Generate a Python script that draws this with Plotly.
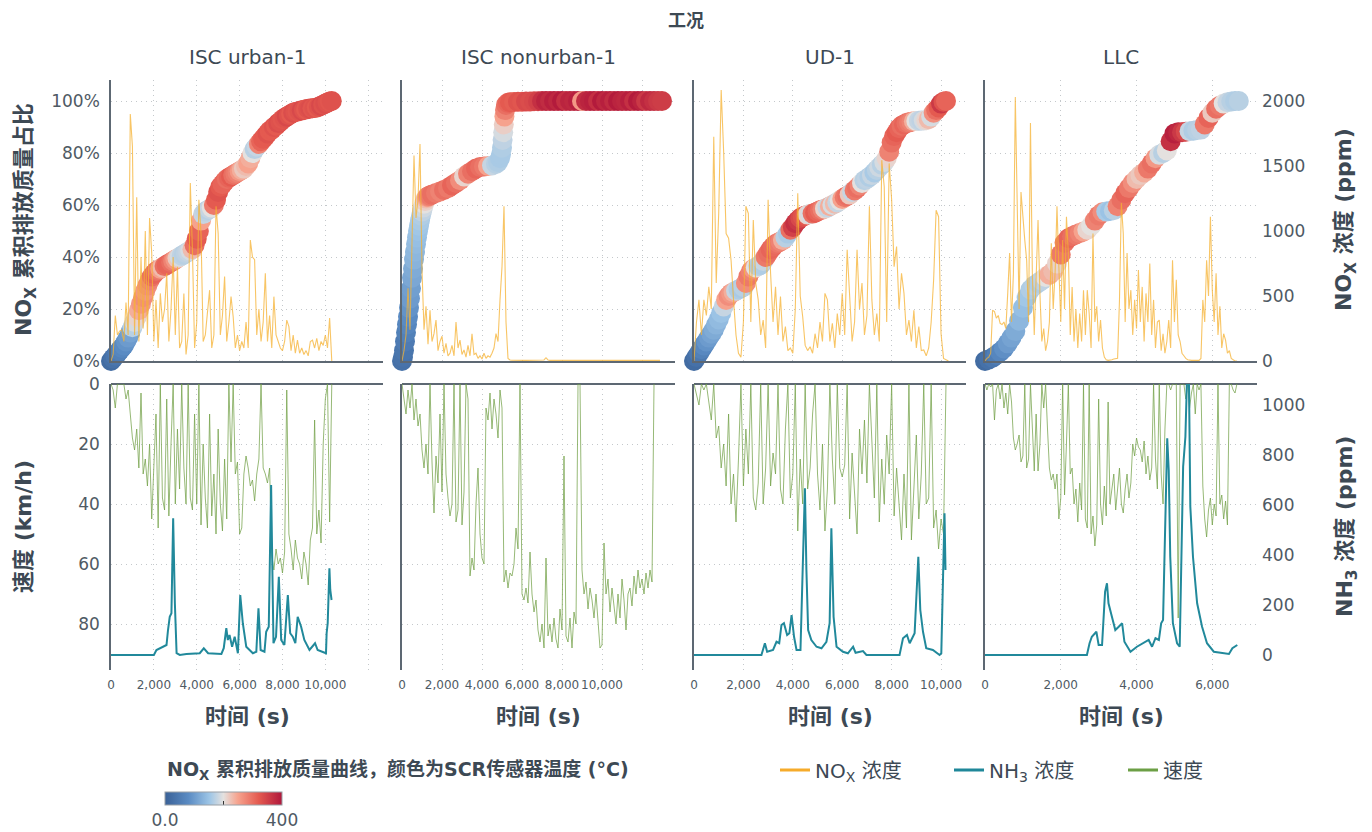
import numpy as np
import plotly.graph_objects as go

# ------------------------------------------------------------------
# Driving cycles
# ------------------------------------------------------------------
cycles = ["ISC urban-1", "ISC nonurban-1", "UD-1", "LLC"]

# ---------------- ISC urban-1 (100 s grid) ----------------
step_urban = 100
nox_urban = [0, 50, 350, 200, 230, 240, 150, 450, 200, 1900,
             1650, 200, 1260, 150, 800, 250, 1000, 200, 1100, 830,
             150, 470, 100, 520, 300, 400, 675, 150, 400, 800,
             200, 725, 100, 150, 520, 50, 200, 1370, 850, 100,
             300, 1240, 980, 150, 200, 400, 545, 100, 200, 1190,
             980, 200, 350, 650, 150, 300, 495, 340, 100, 200,
             80, 150, 100, 300, 100, 930, 800, 780, 200, 400,
             150, 300, 675, 150, 350, 100, 495, 200, 150, 100,
             80, 150, 315, 264, 80, 200, 60, 160, 60, 100,
             50, 80, 40, 150, 160, 100, 175, 80, 150, 120,
             200, 100, 330, 0]
cum_urban = [0, 1, 2, 3, 4, 5, 6, 7.5, 9, 11,
             13, 15, 17, 19.5, 22, 24.5, 27, 29, 31, 32.5,
             33.5, 34.5, 35, 35.5, 36, 36.5, 37, 37.5, 38, 38.5,
             39, 39.5, 40, 40.5, 41, 41.5, 42, 42.5, 43, 44.5,
             47, 50, 54, 56.5, 57.5, 58, 58.5, 59, 60, 62,
             65, 67, 68, 69, 70, 70.5, 71, 71.5, 72, 72.5,
             73, 73.5, 74, 75, 76, 78, 80, 81.5, 82.5, 83.5,
             84.5, 85.5, 86.5, 87.5, 88.5, 89, 90, 90.5, 91.5, 92,
             93, 93.5, 94, 94.5, 95, 95.5, 95.8, 96, 96.2, 96.4,
             96.6, 96.8, 97, 97.1, 97.2, 97.3, 97.5, 97.8, 98.2, 98.6,
             99, 99.4, 99.8, 100]
temp_urban = [20, 30, 40, 50, 60, 70, 80, 90, 100, 110,
              170, 190, 210, 240, 260, 270, 260, 270, 280, 300,
              310, 300, 290, 250, 230, 300, 310, 310, 300, 280,
              260, 220, 190, 175, 170, 175, 180, 190, 230, 300,
              320, 310, 250, 180, 175, 170, 180, 200, 290, 320,
              330, 320, 310, 310, 300, 310, 320, 300, 290, 280,
              260, 240, 220, 230, 250, 240, 200, 170, 180, 280,
              310, 320, 320, 330, 320, 320, 330, 320, 335, 330,
              325, 330, 340, 330, 320, 335, 330, 325, 330, 340,
              330, 320, 330, 335, 325, 330, 320, 330, 340, 330,
              335, 330, 325, 330]
speed_urban = [0, 2, 8, 0, 0, 0, 0, 5, 2, 10,
               18, 22, 15, 28, 3, 30, 25, 34, 20, 45,
               30, 10, 48, 0, 38, 42, 5, 44, 20, 0,
               40, 15, 35, 0, 28, 40, 0, 38, 42, 10,
               40, 0, 47, 20, 38, 48, 10, 44, 30, 50,
               15, 40, 49, 25, 45, 0, 26, 0, 30, 26,
               50, 48, 30, 24, 28, 34, 32, 39, 30, 25,
               0, 28, 30, 33, 28, 57, 62, 55, 60, 58,
               63, 56, 2, 50, 55, 62, 52, 58, 60, 65,
               56, 60, 67, 52, 48, 12, 50, 42, 53, 20,
               5, 0, 46, 0]
nh3_t_urban = [0, 2000, 2120, 2430, 2590, 2660, 2740, 2820, 2900, 2980,
               3060, 3210, 3520, 4140, 4330, 4530, 5150, 5260, 5380, 5450,
               5530, 5650, 5770, 5920, 6030, 6150, 6310, 6620, 6780, 6880,
               6980, 7160, 7240, 7360, 7470, 7580, 7700, 7830, 7940, 8090,
               8250, 8360, 8480, 8600, 8710, 8870, 9020, 9260, 9520, 9640,
               10030, 10060, 10110, 10190, 10230, 10290]
nh3_urban = [0, 0, 20, 33, 40, 100, 153, 167, 547, 207,
             7, 0, 4, 7, 27, 7, 4, 27, 107, 60,
             80, 33, 73, 7, 240, 127, 33, 7, 13, 187,
             20, 13, 93, 113, 680, 47, 73, 313, 60, 40,
             240, 87, 73, 47, 153, 113, 60, 20, 47, 20,
             7, 87, 127, 347, 260, 220]

# ---------------- ISC nonurban-1 (100 s grid) ----------------
step_nonurban = 100
nox_nonurban = [0, 80, 200, 560, 240, 900, 1580, 1100, 1240, 1670,
                700, 240, 420, 130, 390, 150, 210, 315, 80, 150,
                190, 60, 135, 40, 60, 120, 40, 300, 100, 160,
                50, 85, 30, 120, 40, 210, 50, 60, 20, 40,
                15, 60, 20, 40, 30, 60, 100, 210, 150, 470,
                725, 1190, 300, 20, 8, 6, 5, 5, 5, 5,
                5, 5, 5, 5, 5, 5, 5, 5, 5, 5,
                5, 8, 25, 8, 5, 5, 5, 5, 5, 5,
                5, 4, 5, 6, 5, 4, 5, 5, 6, 5,
                5, 4, 5, 6, 5, 4, 5, 5, 6, 5,
                5, 4, 5, 6, 5, 4, 5, 5, 6, 5,
                5, 4, 5, 6, 5, 4, 5, 5, 6, 5,
                5, 4, 5, 6, 5, 4, 5, 5, 6, 5]
cum_t_nonurban = [0, 50, 100, 150, 200, 250, 300, 350, 400, 450,
                  500, 550, 600, 650, 700, 750, 800, 850, 900, 950,
                  1000, 1050, 1100, 1150, 1200, 1250, 1300, 1350, 1400,
                  1500, 1700, 1900, 2100, 2300, 2500, 2700, 2900, 3100, 3300,
                  3500, 3700, 3900, 4100, 4300, 4500, 4700,
                  4800, 4900, 4950, 5000, 5030, 5060, 5090, 5120, 5150, 5200,
                  5300, 5400,
                  5600, 5800, 6000, 6200, 6400, 6600, 6800, 7000, 7200, 7400,
                  7600, 7800, 8000, 8200, 8400, 8600, 8800, 9000, 9200, 9400,
                  9600, 9800, 10000, 10200, 10400, 10600, 10800, 11000, 11200, 11400,
                  11600, 11800, 12000, 12200, 12400, 12600, 12800, 13000]
cum_nonurban = [0, 1.5, 4, 7.5, 11, 14, 17, 20.5, 24, 28,
                32, 35.5, 39, 42, 45, 47.5, 50, 52, 54, 56,
                57.5, 59, 60.5, 61.5, 62.5, 63, 63.3, 63.5, 63.7,
                64, 64.6, 65.2, 65.8, 66.5, 67.5, 68.5, 69.5, 71, 72,
                73, 74, 74.6, 74.8, 75, 75.2, 75.8,
                76.5, 78, 79.5, 82, 85, 88, 91, 94, 96.5, 98.5,
                99.3, 99.5,
                99.6, 99.7, 99.7, 99.8, 99.8, 99.9, 99.9, 100, 100, 100,
                100, 100, 100, 100, 100, 100, 100, 100, 100, 100,
                100, 100, 100, 100, 100, 100, 100, 100, 100, 100,
                100, 100, 100, 100, 100, 100, 100, 100]
temp_nonurban = [30, 35, 40, 50, 60, 70, 80, 90, 100, 105,
                 115, 120, 130, 135, 140, 145, 150, 155, 160, 165,
                 175, 185, 200, 215, 230, 250, 270, 280, 290,
                 300, 290, 280, 300, 290, 310, 300, 270, 210, 280,
                 300, 310, 300, 290, 250, 180, 170,
                 165, 160, 160, 165, 175, 190, 215, 250, 280, 300,
                 310, 320,
                 315, 330, 325, 340, 335, 340, 350, 370, 385, 375,
                 390, 380, 395, 370, 385, 380, 390, 260, 375, 385,
                 390, 370, 395, 380, 390, 375, 395, 385, 380, 390,
                 370, 395, 385, 360, 380, 370, 360, 355]
speed_nonurban = [0, 5, 10, 2, 8, 0, 12, 5, 14, 10,
                  22, 28, 20, 30, 0, 26, 43, 24, 33, 10,
                  36, 0, 30, 38, 44, 40, 0, 46, 42, 0,
                  47, 36, 0, 5, 64, 58, 62, 40, 28, 50,
                  58, 60, 8, 12, 3, 15, 5, 10, 18, 2,
                  8, 66, 62, 68, 63, 64, 60, 48, 55, 0,
                  70, 72, 68, 73, 56, 70, 76, 72, 82, 86,
                  80, 88, 58, 84, 80, 86, 78, 85, 88, 75,
                  82, 24, 84, 86, 78, 88, 76, 80, 0, 0,
                  62, 70, 66, 75, 68, 72, 78, 70, 80, 88,
                  87, 53, 70, 65, 76, 68, 74, 80, 70, 78,
                  65, 72, 82, 70, 68, 74, 64, 70, 62, 68,
                  65, 70, 63, 68, 62, 66, 0]

# ---------------- UD-1 (100 s grid) ----------------
step_ud = 100
nox_ud = [0, 300, 470, 200, 470, 350, 570, 400, 1725, 600,
          1135, 2085, 1610, 980, 945, 775, 470, 200, 60, 30,
          300, 1190, 1135, 300, 1085, 600, 470, 200, 315, 100,
          1240, 675, 300, 570, 200, 495, 150, 265, 80, 100,
          60, 400, 1290, 500, 340, 120, 80, 110, 60, 210,
          100, 300, 150, 520, 470, 150, 290, 100, 365, 200,
          520, 200, 855, 470, 150, 300, 855, 400, 600, 200,
          350, 1190, 470, 200, 365, 150, 1545, 1340, 300, 1520,
          1240, 725, 880, 400, 675, 520, 200, 315, 150, 390,
          100, 265, 80, 85, 40, 100, 300, 625, 1160, 1110,
          210, 20, 10, 0]
cum_ud = [0, 1.5, 3, 4.5, 6, 7.5, 9, 10.5, 12, 14,
          16, 18.5, 21, 23.5, 25, 26, 26.5, 27, 27.5, 28,
          28.5, 30, 32.5, 34.5, 35.5, 36, 36.5, 37, 38.5, 40,
          41.5, 43, 44, 45, 45.5, 46, 46.5, 47.5, 49, 50.5,
          51.5, 53, 54, 55, 55.5, 56, 56.3, 56.5, 56.7, 57,
          57.5, 58, 58.3, 58.6, 59, 59.5, 60, 60.5, 61, 61.8,
          62.3, 63, 63.5, 64, 65, 65.6, 66.5, 67.5, 68.5, 69.5,
          70, 70.8, 71.5, 72.5, 73.5, 74.5, 75.5, 76.5, 78, 80.5,
          84, 86.5, 88, 89.5, 90.5, 91, 91.5, 91.8, 92, 92.2,
          92.3, 92.4, 92.5, 92.5, 92.6, 93, 94, 95.5, 96.5, 97.5,
          99, 99.7, 100]
temp_ud = [20, 30, 45, 60, 75, 90, 100, 110, 120, 130,
           140, 150, 180, 250, 270, 260, 240, 180, 165, 160,
           170, 270, 290, 280, 260, 200, 170, 165, 180, 290,
           300, 310, 305, 300, 290, 280, 240, 170, 160, 300,
           350, 370, 360, 340, 330, 320, 210, 190, 300, 320,
           310, 300, 280, 210, 180, 240, 190, 230, 180, 200,
           250, 290, 300, 220, 180, 290, 300, 280, 200, 170,
           175, 165, 180, 160, 170, 185, 170, 190, 210, 280,
           300, 310, 320, 310, 300, 310, 300, 290, 280, 240,
           200, 180, 175, 190, 210, 230, 190, 270, 300, 320,
           360, 330, 310]
speed_ud = [0, 4, 7, 0, 2, 0, 6, 12, 0, 18,
            14, 28, 20, 34, 10, 40, 30, 46, 25, 0,
            34, 15, 30, 0, 38, 42, 33, 0, 40, 28,
            0, 34, 23, 30, 0, 35, 40, 15, 0, 38,
            30, 0, 49, 25, 40, 0, 35, 28, 10, 0,
            30, 42, 20, 49, 35, 0, 25, 40, 0, 28,
            31, 27, 0, 45, 23, 38, 50, 15, 30, 12,
            33, 0, 20, 38, 0, 46, 25, 40, 17, 30,
            0, 44, 28, 40, 52, 30, 48, 0, 52, 35,
            17, 45, 30, 0, 40, 38, 0, 48, 42, 55,
            45, 50, 0, 0]
nh3_t_ud = [0, 2730, 2870, 2960, 3200, 3340, 3450, 3540, 3640, 3770,
            3860, 3950, 4050, 4150, 4310, 4420, 4490, 4550, 4620, 4750,
            4960, 5160, 5360, 5490, 5560, 5650, 5770, 6030, 6230, 6440,
            6540, 6840, 6980, 7520, 8320, 8460, 8620, 8730, 8930, 9080,
            9160, 9270, 9400, 9670, 9940, 10010, 10080, 10140, 10180]
nh3_ud = [0, 0, 47, 13, 20, 53, 47, 120, 127, 80,
          87, 160, 73, 20, 20, 453, 667, 340, 100, 60,
          33, 27, 53, 127, 507, 153, 33, 13, 7, 33,
          9, 16, 0, 0, 0, 67, 80, 47, 87, 393,
          180, 93, 27, 20, 0, 7, 340, 567, 340]

# ---------------- LLC (50 s grid for signals, 100 s for cumulative) ----------------
step_llc = 50
step_llc_cum = 100
nox_llc = [0, 20, 30, 60, 390, 380, 330, 350, 290, 280,
           300, 250, 520, 830, 300, 675, 2030, 1290, 400, 1300,
           1085, 930, 775, 300, 1830, 675, 200, 675, 1085, 520,
           150, 250, 80, 150, 300, 905, 400, 675, 1190, 725,
           300, 930, 400, 1110, 830, 200, 570, 150, 400, 100,
           365, 150, 545, 200, 545, 365, 100, 980, 300, 420,
           150, 315, 100, 30, 10, 5, 5, 10, 15, 20,
           20, 470, 1215, 980, 300, 830, 400, 545, 200, 470,
           250, 700, 300, 570, 150, 520, 300, 750, 200, 470,
           100, 300, 315, 80, 210, 60, 150, 315, 100, 775,
           300, 625, 200, 150, 60, 40, 20, 10, 5, 5,
           5, 5, 5, 5, 20, 470, 300, 775, 500, 1110,
           545, 300, 675, 200, 420, 100, 210, 160, 60, 80,
           20, 10, 0, 0]
speed_llc = [0, 2, 0, 1, 0, 12, 2, 0, 5, 0,
             8, 3, 10, 0, 6, 18, 22, 20, 17, 26,
             24, 0, 28, 25, 0, 15, 29, 10, 29, 20,
             0, 8, 0, 15, 28, 32, 30, 35, 30, 45,
             38, 0, 37, 20, 0, 30, 28, 40, 35, 46,
             33, 42, 0, 45, 48, 0, 50, 44, 54, 47,
             5, 40, 47, 34, 44, 6, 40, 35, 30, 42,
             36, 28, 40, 43, 35, 30, 38, 33, 20, 24,
             18, 21, 22, 26, 19, 30, 24, 32, 28, 0,
             25, 35, 0, 30, 40, 15, 0, 0, 2, 0,
             0, 0, 78, 0, 0, 0, 5, 0, 8, 3,
             0, 10, 0, 2, 0, 34, 45, 51, 42, 38,
             47, 40, 44, 0, 40, 37, 45, 39, 47, 0,
             0, 2, 3, 0]
cum_llc = [0, 0.6, 1.3, 2.3, 3.5, 4.8, 6.8, 9, 11.5, 15.5,
           20.5, 24.5, 27.5, 29, 30, 31, 32.3, 33.2, 34.5, 37.5,
           41, 45.5, 47.2, 48, 48.7, 49.2, 49.8, 50.5, 52, 54,
           56, 57.2, 57.5, 57.7, 58, 59.5, 62, 64.5, 66.5, 68.5,
           70, 71.5, 72.5, 74, 76, 78, 79.3, 80, 81, 84.5,
           87.5, 88, 88, 88.2, 88.4, 88.6, 88.8, 89, 91, 93.5,
           95.5, 97, 98.2, 99, 99.5, 99.8, 100, 100]
temp_llc = [20, 30, 40, 55, 70, 85, 100, 110, 120, 135,
            145, 155, 165, 170, 165, 175, 200, 240, 230, 210,
            290, 300, 310, 300, 290, 280, 250, 210, 200, 280,
            290, 270, 160, 150, 170, 280, 300, 310, 290, 270,
            230, 220, 240, 290, 300, 260, 190, 170, 200, 370,
            390, 380, 360, 340, 180, 165, 170, 175, 290, 310,
            220, 300, 290, 200, 180, 170, 165, 170]
nh3_t_llc = [0, 2690, 2760, 2820, 2940, 3000, 3090, 3170, 3220, 3260,
             3350, 3440, 3530, 3620, 3680, 3840, 4010, 4230, 4320, 4410,
             4500, 4590, 4650, 4700, 4760, 4810, 4850, 4890, 4960, 5070,
             5140, 5190, 5230, 5290, 5340, 5380, 5420, 5490, 5600, 5730,
             5860, 6040, 6300, 6440, 6530, 6660]
nh3_llc = [0, 0, 47, 73, 93, 40, 40, 253, 287, 207,
           153, 100, 113, 127, 53, 13, 33, 53, 60, 33,
           67, 60, 127, 140, 500, 867, 740, 393, 127, 47,
           33, 393, 753, 873, 1150, 1150, 593, 393, 207, 113,
           47, 13, 7, 4, 27, 40]

panels = [
    dict(title=cycles[0], t=np.arange(len(nox_urban)) * step_urban, nox=nox_urban,
         speed=speed_urban, cum_t=np.arange(len(cum_urban)) * step_urban,
         cum=cum_urban, temp=temp_urban, nh3_t=nh3_t_urban, nh3=nh3_urban),
    dict(title=cycles[1], t=np.arange(len(nox_nonurban)) * step_nonurban, nox=nox_nonurban,
         speed=speed_nonurban, cum_t=cum_t_nonurban,
         cum=cum_nonurban, temp=temp_nonurban, nh3_t=None, nh3=None),
    dict(title=cycles[2], t=np.arange(len(nox_ud)) * step_ud, nox=nox_ud,
         speed=speed_ud, cum_t=np.arange(len(cum_ud)) * step_ud,
         cum=cum_ud, temp=temp_ud, nh3_t=nh3_t_ud, nh3=nh3_ud),
    dict(title=cycles[3], t=np.arange(len(nox_llc)) * step_llc, nox=nox_llc,
         speed=speed_llc, cum_t=np.arange(len(cum_llc)) * step_llc_cum,
         cum=cum_llc, temp=temp_llc, nh3_t=nh3_t_llc, nh3=nh3_llc),
]

# ------------------------------------------------------------------
# Styling / geometry
# ------------------------------------------------------------------
W, H = 1372, 832
TXT = "#3d4954"
TICK = "#4f5a64"
AXLINE = "#5d6873"
GRID = "#c4c8cb"
GRID_DASH = "1px,4px"
FONT = "DejaVu Sans, Noto Sans CJK SC, sans-serif"

X_DOM_PX = [(111, 383), (402, 675), (694, 966), (985, 1257)]
X_MAX = [12690, 13650, 11010, 7180]
X_TICKS = [list(range(0, 12001, 2000)), list(range(0, 12001, 2000)),
           list(range(0, 10001, 2000)), list(range(0, 6001, 2000))]
TOP_PX = (80, 361)
BOT_PX = (384, 670)
TOP_LEFT_RANGE = [0, (TOP_PX[1] - TOP_PX[0]) / 2.6]
TOP_RIGHT_RANGE = [0, TOP_LEFT_RANGE[1] * 20]
BOT_LEFT_RANGE = [(BOT_PX[1] - BOT_PX[0]) / 3.0, 0]
BOT_RIGHT_RANGE = [-60, 1084]

TEMP_SCALE = [[0.0, "#3a6197"], [0.2, "#5a8bc3"], [0.38, "#9dc5e6"],
              [0.5, "#e4e1df"], [0.62, "#f6a48f"], [0.8, "#e45a50"],
              [1.0, "#b0173b"]]

NOX_COLOR = "rgba(246,178,50,0.75)"
NH3_COLOR = "#21899b"
SPEED_COLOR = "rgba(116,162,74,0.75)"
LEGEND_COLORS = {"nox": "#f6ab2b", "nh3": "#1f8799", "speed": "#6c9f45"}


def ydom(px):
    return [1 - px[1] / H, 1 - px[0] / H]


def ax_id(n):
    return "" if n == 1 else str(n)


layout = dict(
    width=W, height=H, margin=dict(l=0, r=0, t=0, b=0, autoexpand=False),
    paper_bgcolor="white", plot_bgcolor="white",
    font=dict(family=FONT, color=TXT),
    hovermode=False,
    coloraxis=dict(
        colorscale=TEMP_SCALE, cmin=0, cmax=400,
        colorbar=dict(
            orientation="h", x=165 / W, xanchor="left", y=1 - 792 / H, yanchor="top",
            len=117, lenmode="pixels", thickness=13, thicknessmode="pixels",
            xpad=0, ypad=0, outlinewidth=1, outlinecolor="#9aa0a6",
            tickvals=[0, 200, 400], ticktext=["0.0", "", "400"],
            ticks="inside", ticklen=4, tickcolor="#333333",
            tickfont=dict(size=17, color=TICK, family=FONT),
        ),
    ),
    legend=dict(
        orientation="h", x=775 / W, xanchor="left", y=1 - 770 / H, yanchor="middle",
        font=dict(size=20, color=TXT, family=FONT), bgcolor="rgba(0,0,0,0)",
        entrywidth=129, entrywidthmode="pixels",
    ),
)

annotations = []

for c, p in enumerate(panels):
    xd = [X_DOM_PX[c][0] / W, X_DOM_PX[c][1] / W]
    ticktext = [f"{v:,}" if v <= 10000 else "" for v in X_TICKS[c]]
    for r in range(2):
        k = r * 4 + c + 1
        ya, yb = 2 * k - 1, 2 * k
        xax = dict(
            domain=xd, anchor="y" + ax_id(ya), range=[0, X_MAX[c]],
            tickvals=X_TICKS[c], ticktext=ticktext, tickangle=0,
            showgrid=True, gridcolor=GRID, griddash=GRID_DASH, gridwidth=1,
            zeroline=False, ticks="",
            tickfont=dict(size=12, color=TICK), ticklabelstandoff=6,
        )
        if r == 0:
            xax.update(showticklabels=False, showline=True, linecolor=AXLINE, linewidth=1.5)
            yl = dict(
                domain=ydom(TOP_PX), anchor="x" + ax_id(k), range=TOP_LEFT_RANGE,
                tickvals=[0, 20, 40, 60, 80, 100],
                ticktext=["0%", "20%", "40%", "60%", "80%", "100%"],
                showgrid=True, gridcolor=GRID, griddash=GRID_DASH,
                zeroline=False, showline=True, linecolor=AXLINE, linewidth=1.5,
                showticklabels=(c == 0), tickfont=dict(size=17, color=TICK),
                ticklabelstandoff=6,
            )
            yr = dict(
                overlaying="y" + ax_id(ya), anchor="x" + ax_id(k), side="right",
                range=TOP_RIGHT_RANGE, tickvals=[0, 500, 1000, 1500, 2000],
                showgrid=False, zeroline=False, showline=False,
                showticklabels=(c == 3), tickfont=dict(size=17, color=TICK),
                ticklabelstandoff=4,
            )
        else:
            xax.update(showticklabels=True, showline=False)
            yl = dict(
                domain=ydom(BOT_PX), anchor="x" + ax_id(k), range=BOT_LEFT_RANGE,
                tickvals=[0, 20, 40, 60, 80],
                showgrid=True, gridcolor=GRID, griddash=GRID_DASH,
                zeroline=True, zerolinecolor=AXLINE, zerolinewidth=1.5,
                showline=True, linecolor=AXLINE, linewidth=1.5,
                showticklabels=(c == 0), tickfont=dict(size=17, color=TICK),
                ticklabelstandoff=6,
            )
            yr = dict(
                overlaying="y" + ax_id(ya), anchor="x" + ax_id(k), side="right",
                range=BOT_RIGHT_RANGE, tickvals=[0, 200, 400, 600, 800, 1000],
                showgrid=False, zeroline=False, showline=False,
                showticklabels=(c == 3), tickfont=dict(size=17, color=TICK),
                ticklabelstandoff=4,
            )
        layout["xaxis" + ax_id(k)] = xax
        layout["yaxis" + ax_id(ya)] = yl
        layout["yaxis" + ax_id(yb)] = yr

    cx = (X_DOM_PX[c][0] + X_DOM_PX[c][1]) / 2 / W
    annotations.append(dict(text=p["title"], x=cx, y=1 - 57 / H,
                            font=dict(size=20, color=TXT)))
    annotations.append(dict(text="<b>时间 (s)</b>", x=cx, y=1 - 716 / H,
                            font=dict(size=22, color=TXT)))

annotations += [
    dict(text="<b>工况</b>", x=686 / W, y=1 - 20 / H, font=dict(size=18, color=TXT)),
    dict(text="<b>NO<sub>X</sub> 累积排放质量占比</b>", x=26 / W, y=1 - 220 / H,
         textangle=-90, font=dict(size=22, color=TXT)),
    dict(text="<b>速度 (km/h)</b>", x=23 / W, y=1 - 527 / H,
         textangle=-90, font=dict(size=22, color=TXT)),
    dict(text="<b>NO<sub>X</sub> 浓度 (ppm)</b>", x=1346 / W, y=1 - 220 / H,
         textangle=-90, font=dict(size=22, color=TXT)),
    dict(text="<b>NH<sub>3</sub> 浓度 (ppm)</b>", x=1346 / W, y=1 - 527 / H,
         textangle=-90, font=dict(size=22, color=TXT)),
    dict(text="<b>NO<sub>X</sub> 累积排放质量曲线，颜色为SCR传感器温度 (°C)</b>",
         x=165 / W, y=1 - 770 / H, xanchor="left", font=dict(size=19, color=TXT)),
]
for a in annotations:
    a.setdefault("xref", "paper")
    a.setdefault("yref", "paper")
    a.setdefault("xanchor", "center")
    a.setdefault("yanchor", "middle")
    a.setdefault("showarrow", False)
layout["annotations"] = annotations

fig = go.Figure(layout=layout)

for c, p in enumerate(panels):
    k_top, k_bot = c + 1, 4 + c + 1
    # cumulative NOx mass share, coloured by SCR temperature
    fig.add_trace(go.Scatter(
        x=p["cum_t"], y=p["cum"], mode="markers",
        xaxis="x" + ax_id(k_top), yaxis="y" + ax_id(2 * k_top - 1),
        marker=dict(size=20, color=p["temp"], coloraxis="coloraxis", line=dict(width=0)),
        cliponaxis=False, showlegend=False,
    ))
    # NOx concentration
    fig.add_trace(go.Scatter(
        x=p["t"], y=p["nox"], mode="lines",
        xaxis="x" + ax_id(k_top), yaxis="y" + ax_id(2 * k_top),
        line=dict(color=NOX_COLOR, width=1.1), showlegend=False,
    ))
    # vehicle speed
    fig.add_trace(go.Scatter(
        x=p["t"][:len(p["speed"])], y=p["speed"], mode="lines",
        xaxis="x" + ax_id(k_bot), yaxis="y" + ax_id(2 * k_bot - 1),
        line=dict(color=SPEED_COLOR, width=1), showlegend=False,
    ))
    # NH3 concentration
    if p["nh3"] is not None:
        fig.add_trace(go.Scatter(
            x=p["nh3_t"], y=p["nh3"], mode="lines",
            xaxis="x" + ax_id(k_bot), yaxis="y" + ax_id(2 * k_bot),
            line=dict(color=NH3_COLOR, width=2), showlegend=False,
        ))

# legend keys (no data of their own)
for key, label in [("nox", "NO<sub>X</sub> 浓度"), ("nh3", "NH<sub>3</sub> 浓度"), ("speed", "速度")]:
    fig.add_trace(go.Scatter(
        x=[None], y=[None], mode="lines", name=label,
        line=dict(color=LEGEND_COLORS[key], width=3),
        xaxis="x", yaxis="y", showlegend=True,
    ))

fig.write_html("out.html")
